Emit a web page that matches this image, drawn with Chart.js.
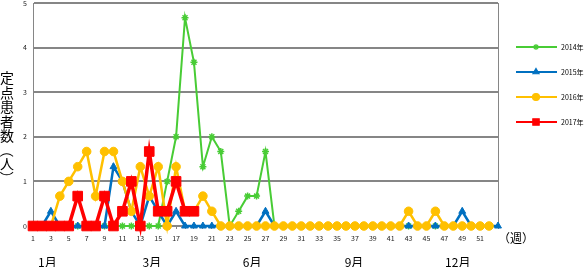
<!DOCTYPE html>
<html>
<head>
<meta charset="utf-8">
<script src="https://cdn.jsdelivr.net/npm/chart.js@4"></script>
<style>
  body { margin: 0; background: #fff; }
</style>
</head>
<body>
<canvas id="chart" width="584" height="267"></canvas>
<script>
var weeks = [1,2,3,4,5,6,7,8,9,10,11,12,13,14,15,16,17,18,19,20,21,22,23,24,25,26,27,
             28,29,30,31,32,33,34,35,36,37,38,39,40,41,42,43,44,45,46,47,48,49,50,51,52,53];

var y2014 = [0,0,0,0,0,0,0,0,0,0,0,0,0,0,0,1,2,4.67,3.67,1.33,2,1.67,0,0.33,0.67,0.67,1.67,
             0,0,0,0,0,0,0,0,0,0,0,0,0,0,0,0,0,0,0,0,0,0,0,0,0,null];
var y2015 = [0,0,0.33,0,0,0,0,0,0,1.33,1,0.33,0,0.67,0.33,0,0.33,0,0,0,0,0,0,0,0,0,0.33,
             0,0,0,0,0,0,0,0,0,0,0,0,0,0,0,0,0,0,0,0,0,0.33,0,0,0,0];
var y2016 = [0,0,0,0.67,1,1.33,1.67,0.67,1.67,1.67,1,0.33,1.33,0.67,1.33,0,1.33,0.33,0.33,0.67,0.33,0,0,0,0,0,0,
             0,0,0,0,0,0,0,0,0,0,0,0,0,0,0,0.33,0,0,0.33,0,0,0,0,0,0,null];
var y2017 = [0,0,0,0,0,0.67,0,0,0.67,0,0.33,1,0,1.67,0.33,0.33,1,0.33,0.33];

var seriesNames = ["2014年", "2015年", "2016年", "2017年"];
var yTicks = [0, 1, 2, 3, 4, 5];
var monthLabels = ["1月", "3月", "6月", "9月", "12月"];
var monthWeeks = [2.6, 14.3, 25.5, 36.9, 48.5];
var yTitle = ["定", "点", "患", "者", "数", "（", "人", "）"];

var colors = ["#48CC35", "#0070C0", "#FFC000", "#FF0000"];
var FONT = "'Noto Sans CJK JP', 'Noto Sans', sans-serif";

var extras = {
  id: "extras",
  beforeDatasetsDraw: function(chart) {
    var ctx = chart.ctx, a = chart.chartArea;
    ctx.save();
    ctx.strokeStyle = "#868686";
    ctx.lineWidth = 1;
    ctx.beginPath();
    ctx.moveTo(a.right + 0.5, a.top);
    ctx.lineTo(a.right + 0.5, a.bottom);
    ctx.stroke();
    ctx.restore();
  },
  afterDraw: function(chart) {
    var ctx = chart.ctx, xs = chart.scales.x;
    ctx.save();
    ctx.fillStyle = "#000";
    ctx.textAlign = "center";
    ctx.textBaseline = "middle";

    // month labels
    ctx.font = "12px " + FONT;
    monthLabels.forEach(function(m, i) {
      ctx.fillText(m, xs.getPixelForValue(monthWeeks[i] - 1), 262);
    });

    // week unit
    ctx.fillText("（週）", 516, 238);

    // vertical y title
    ctx.font = "14px " + FONT;
    var yy = 78;
    yTitle.forEach(function(c) {
      if (c === "（" || c === "）") {
        ctx.save();
        ctx.translate(7, yy);
        ctx.rotate(Math.PI / 2);
        ctx.fillText(c, 0, 0);
        ctx.restore();
        yy += 13;
      } else {
        ctx.fillText(c, 7, yy);
        yy += 14.5;
      }
    });

    // legend
    var styles = ["star", "triangle", "circle", "rect"];
    var radii = [3, 3.5, 3.5, 4.5];
    ctx.font = "7px " + FONT;
    ctx.textAlign = "left";
    seriesNames.forEach(function(name, i) {
      var y = 47 + i * 25;
      ctx.strokeStyle = colors[i];
      ctx.lineWidth = 2;
      ctx.beginPath();
      ctx.moveTo(516, y);
      ctx.lineTo(557, y);
      ctx.stroke();
      ctx.fillStyle = colors[i];
      ctx.lineWidth = 1.2;
      Chart.helpers.drawPoint(ctx, { pointStyle: styles[i], radius: radii[i], rotation: 0, borderWidth: 1.2 }, 536, y);
      ctx.fillStyle = "#000";
      ctx.fillText(name, 561, y);
    });
    ctx.restore();
  }
};

var canvas = document.getElementById("chart");
var config = {
  type: "line",
  data: {
    labels: weeks,
    datasets: [
      { label: seriesNames[0], data: y2014, borderColor: colors[0], backgroundColor: colors[0],
        borderWidth: 2, pointStyle: "star", pointRadius: 3.5, pointBorderWidth: 1.5, order: 4, clip: false },
      { label: seriesNames[1], data: y2015, borderColor: colors[1], backgroundColor: colors[1],
        borderWidth: 2.5, pointStyle: "triangle", pointRadius: 4, pointBorderWidth: 1, order: 3, clip: false },
      { label: seriesNames[2], data: y2016, borderColor: colors[2], backgroundColor: colors[2],
        borderWidth: 2.5, pointStyle: "circle", pointRadius: 4.3, pointBorderWidth: 1, order: 2, clip: false },
      { label: seriesNames[3], data: y2017, borderColor: colors[3], backgroundColor: colors[3],
        borderWidth: 3.5, pointStyle: "rect", pointRadius: 6.8, pointBorderWidth: 1, order: 1, clip: false }
    ]
  },
  options: {
    responsive: false,
    animation: false,
    layout: { autoPadding: false, padding: { top: 3, right: 86, left: 0, bottom: 0 } },
    plugins: { legend: { display: false }, tooltip: { enabled: false } },
    elements: { line: { tension: 0 } },
    scales: {
      x: {
        offset: false,
        afterFit: function(s) { s.height = 41; s.paddingLeft = 0; s.paddingRight = 0; },
        grid: { drawOnChartArea: false, drawTicks: true, tickLength: 3, color: "#868686" },
        border: { color: "#868686", width: 1 },
        ticks: {
          autoSkip: false, maxRotation: 0, padding: 5, color: "#222",
          font: { size: 7, family: FONT },
          callback: function(v, i) { return (i % 2 === 0 && i < 52) ? String(weeks[i]) : ""; }
        }
      },
      y: {
        min: yTicks[0], max: yTicks[yTicks.length - 1],
        afterFit: function(s) { s.width = 33; s.paddingTop = 0; s.paddingBottom = 0; },
        afterBuildTicks: function(s) { s.ticks = yTicks.map(function(v) { return { value: v }; }); },
        grid: { color: "#868686", lineWidth: 2, drawTicks: false },
        border: { color: "#868686", width: 1 },
        ticks: { padding: 6, color: "#222", font: { size: 7, family: FONT } }
      }
    }
  },
  plugins: [extras]
};

var lineChart = new Chart(canvas, config);
</script>
</body>
</html>
